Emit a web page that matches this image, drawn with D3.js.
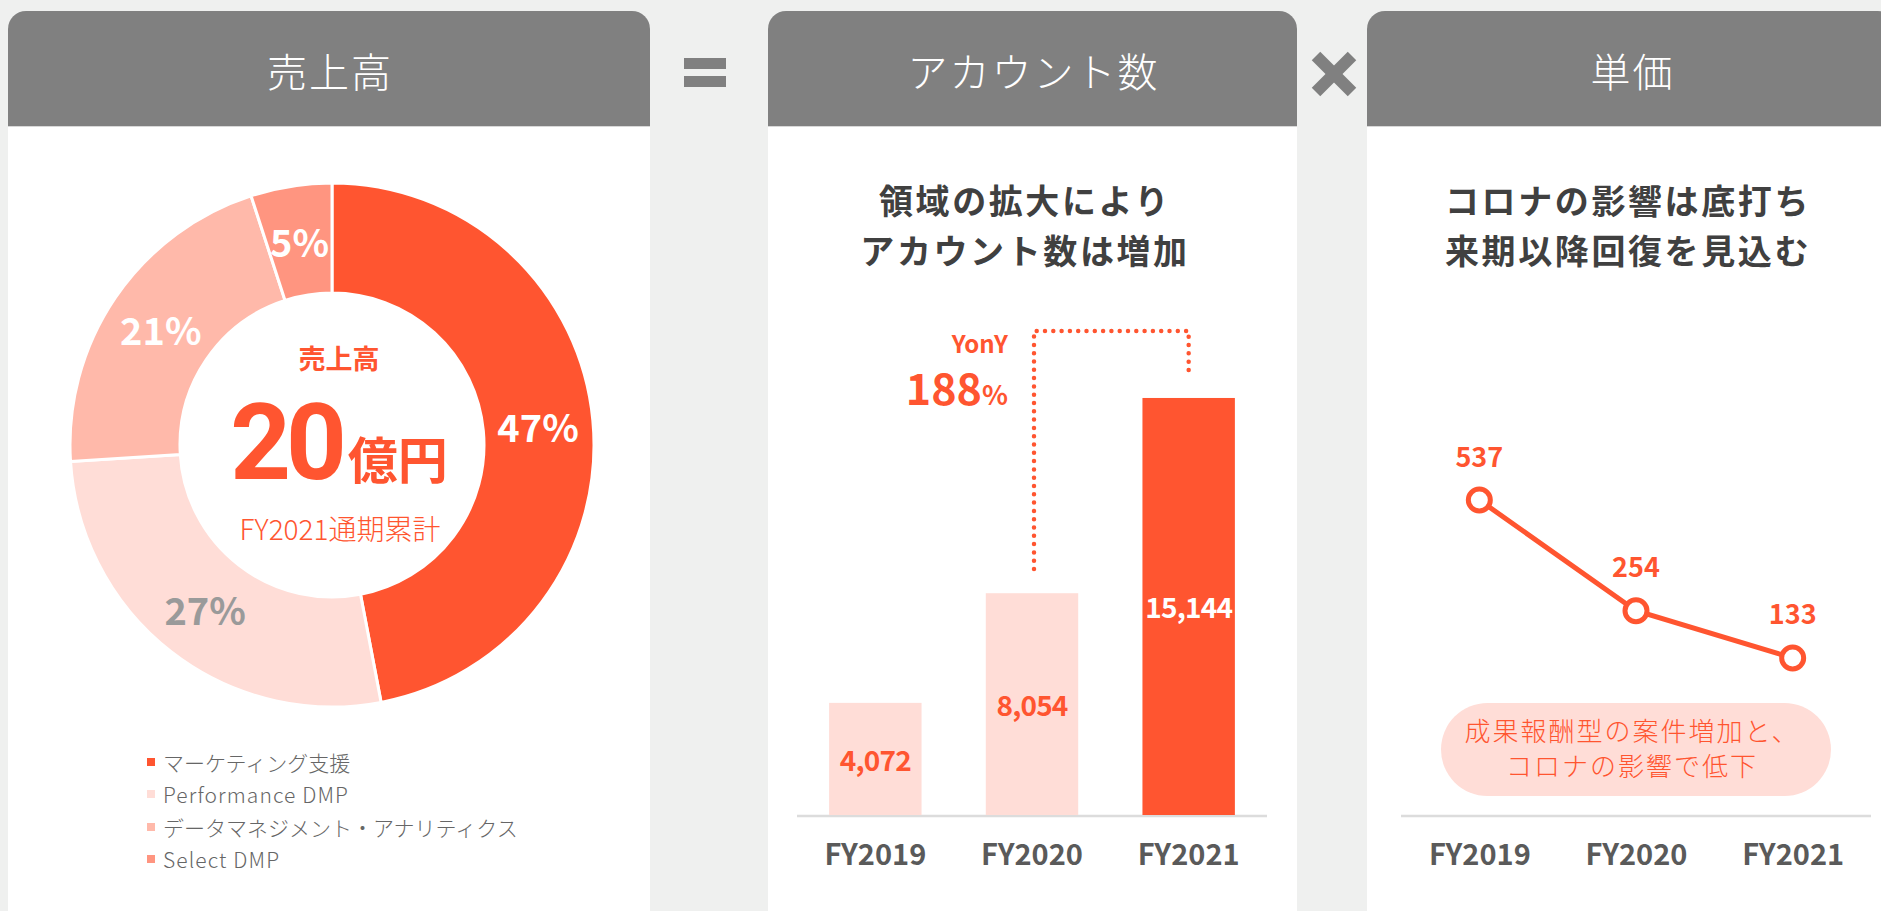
<!DOCTYPE html>
<html><head><meta charset="utf-8">
<script src="https://cdn.jsdelivr.net/npm/d3@7"></script>
<style>
html,body{margin:0;padding:0;background:#eff0ef;overflow:hidden;}
svg{display:block;font-family:"Noto Sans CJK JP","Noto Sans",sans-serif;}
</style></head><body>
<svg id="c" width="1881" height="911"></svg>
<script>
// ---------- data ----------
const panelTitles = ["売上高", "アカウント数", "単価"];
const segmentNames = ["マーケティング支援", "Performance DMP", "データマネジメント・アナリティクス", "Select DMP"];
const segmentShares = [47, 27, 21, 5];
const centerTitle = "売上高";
const centerValue = "20";
const centerUnit = "億円";
const centerNote = "FY2021通期累計";
const years = ["FY2019", "FY2020", "FY2021"];
const accounts = [4072, 8054, 15144];
const yonyLabel = "YonY";
const yonyValue = "188";
const unitPrices = [537, 254, 133];
const accountHeadline = ["領域の拡大により", "アカウント数は増加"];
const priceHeadline = ["コロナの影響は底打ち", "来期以降回復を見込む"];
const priceNote = ["成果報酬型の案件増加と、", "コロナの影響で低下"];

// ---------- styles ----------
const RED = "#ff5530", PINK = "#ffddd7", GRAY = "#808080";
const segmentColors = [RED, "#ffddd7", "#ffb9aa", "#ff9580"];
const segmentLabelColors = ["#fff", "#9a9a9a", "#fff", "#fff"];

const svg = d3.select("#c");
const HT = 11, HB = 126, R = 18;
const panels = [{x: 8, w: 642}, {x: 768, w: 529}, {x: 1367, w: 529}];

panels.forEach((p, i) => {
  svg.append("rect").attr("x", p.x).attr("y", HB).attr("width", p.w).attr("height", 911 - HB).attr("fill", "#fff");
  const path = `M${p.x},${HB}V${HT + R}A${R},${R} 0 0 1 ${p.x + R},${HT}H${p.x + p.w - R}A${R},${R} 0 0 1 ${p.x + p.w},${HT + R}V${HB}Z`;
  svg.append("path").attr("d", path).attr("fill", GRAY);
  svg.append("line").attr("x1", p.x).attr("x2", p.x + p.w).attr("y1", HB + 0.5).attr("y2", HB + 0.5).attr("stroke", "#d8d8d8").attr("stroke-width", 1);
  svg.append("text").attr("x", p.x + p.w / 2 + 1).attr("y", 70)
    .attr("text-anchor", "middle").attr("dominant-baseline", "central")
    .attr("font-size", 40).attr("font-weight", 300).attr("letter-spacing", 2)
    .attr("fill", "#fff").text(panelTitles[i]);
});

// operators
svg.append("rect").attr("x", 684).attr("y", 58).attr("width", 42).attr("height", 11).attr("fill", GRAY);
svg.append("rect").attr("x", 684).attr("y", 76).attr("width", 42).attr("height", 11).attr("fill", GRAY);
[[-1, -1, 1, 1], [-1, 1, 1, -1]].forEach(d => {
  svg.append("line").attr("x1", 1334 + d[0] * 18).attr("y1", 74 + d[1] * 18)
    .attr("x2", 1334 + d[2] * 18).attr("y2", 74 + d[3] * 18)
    .attr("stroke", GRAY).attr("stroke-width", 12);
});

// ---------- donut ----------
const cx = 332, cy = 445, rOut = 262, rIn = 152;
const pie = d3.pie().sort(null).value(d => d);
const arcs = pie(segmentShares);
const arc = d3.arc().innerRadius(rIn).outerRadius(rOut);
const labelArc = d3.arc().innerRadius((rIn + rOut) / 2).outerRadius((rIn + rOut) / 2);
const g1 = svg.append("g").attr("transform", `translate(${cx},${cy})`);
g1.selectAll("path").data(arcs).join("path")
  .attr("d", arc).attr("fill", (d, i) => segmentColors[i])
  .attr("stroke", "#fff").attr("stroke-width", 3);
g1.selectAll("text").data(arcs).join("text")
  .attr("transform", d => `translate(${labelArc.centroid(d)})`)
  .attr("text-anchor", "middle").attr("dominant-baseline", "central")
  .attr("font-size", 38).attr("font-weight", 700)
  .attr("fill", (d, i) => segmentLabelColors[i])
  .text(d => d.data + "%");

svg.append("text").attr("x", 339).attr("y", 357).attr("text-anchor", "middle").attr("dominant-baseline", "central")
  .attr("font-size", 27).attr("font-weight", 700).attr("fill", RED).text(centerTitle);
const big = svg.append("text").attr("x", 339).attr("y", 479).attr("text-anchor", "middle")
  .attr("font-weight", 700).attr("fill", RED);
big.append("tspan").attr("font-size", 106).attr("font-family", "Roboto, 'Noto Sans', sans-serif").attr("letter-spacing", -5).text(centerValue);
big.append("tspan").attr("font-size", 50).attr("dx", 6).text(centerUnit);
svg.append("text").attr("x", 340).attr("y", 528).attr("text-anchor", "middle").attr("dominant-baseline", "central")
  .attr("font-size", 28).attr("font-weight", 300).attr("fill", RED).text(centerNote);

// legend
const legRows = [762, 794, 827, 859];
segmentNames.forEach((n, i) => {
  const latin = /^[\x00-\x7F]+$/.test(n);
  svg.append("rect").attr("x", 147).attr("y", legRows[i] - 4).attr("width", 8).attr("height", 8).attr("fill", segmentColors[i]);
  svg.append("text").attr("x", 163).attr("y", legRows[i]).attr("dominant-baseline", "central")
    .attr("font-size", 21).attr("font-weight", 300).attr("letter-spacing", latin ? 1.1 : 0)
    .attr("fill", "#666").text(n);
});

// ---------- headlines ----------
function headline(lines, x) {
  lines.forEach((s, i) => {
    svg.append("text").attr("x", x).attr("y", [199.5, 249.5][i]).attr("text-anchor", "middle").attr("dominant-baseline", "central")
      .attr("font-size", 34).attr("font-weight", 700).attr("letter-spacing", 2.6).attr("fill", "#404040").text(s);
  });
}
headline(accountHeadline, 1025);
headline(priceHeadline, 1628);

// ---------- bar chart ----------
const base = 815;
const xb = d3.scaleBand().domain(years).range([797, 1267]).paddingInner(0.41).paddingOuter(0.205);
const yb = d3.scaleLinear().domain([0, 16000]).range([base, base - 440.6]);
svg.append("line").attr("x1", 797).attr("x2", 1267).attr("y1", base + 1).attr("y2", base + 1).attr("stroke", "#dcdcdc").attr("stroke-width", 2.5);
svg.selectAll(".bar").data(accounts).join("rect").attr("class", "bar")
  .attr("x", (d, i) => xb(years[i])).attr("width", xb.bandwidth())
  .attr("y", d => yb(d)).attr("height", d => base - yb(d))
  .attr("fill", (d, i) => i === accounts.length - 1 ? RED : PINK);
svg.selectAll(".bl").data(accounts).join("text").attr("class", "bl")
  .attr("x", (d, i) => xb(years[i]) + xb.bandwidth() / 2)
  .attr("y", d => (yb(d) + base) / 2)
  .attr("text-anchor", "middle").attr("dominant-baseline", "central")
  .attr("font-size", 28).attr("font-weight", 700).attr("letter-spacing", -0.8)
  .attr("fill", (d, i) => i === accounts.length - 1 ? "#fff" : RED)
  .text(d => d3.format(",")(d));
const xAxisB = d3.axisBottom(xb).tickSize(0).tickPadding(0);
const axB = svg.append("g").attr("transform", `translate(0,${base})`).call(xAxisB);
axB.select(".domain").remove();
axB.selectAll("text").attr("y", 37).attr("dy", null).attr("dominant-baseline", "central")
  .attr("font-size", 29).attr("font-weight", 700).attr("fill", "#5a5a5a")
  .attr("font-family", "'Noto Sans CJK JP','Noto Sans',sans-serif");

// YonY dotted connector
const xL = xb(years[1]) + xb.bandwidth() / 2 + 2, xR = xb(years[2]) + xb.bandwidth() / 2;
svg.append("path").attr("d", `M${xL},569V331H${xR}V378`)
  .attr("fill", "none").attr("stroke", RED).attr("stroke-width", 4.5)
  .attr("stroke-linecap", "round").attr("stroke-dasharray", "0 8.3");
svg.append("text").attr("x", 1008).attr("y", 342).attr("text-anchor", "end").attr("dominant-baseline", "central")
  .attr("font-size", 24).attr("font-weight", 700).attr("fill", RED).text(yonyLabel);
const yy = svg.append("text").attr("x", 1008).attr("y", 405).attr("text-anchor", "end").attr("font-weight", 700).attr("fill", RED);
yy.append("tspan").attr("font-size", 43).text(yonyValue);
yy.append("tspan").attr("font-size", 27).text("%");

// ---------- line chart ----------
const xp = d3.scalePoint().domain(years).range([1401, 1871]).padding(0.5);
const yp = d3.scaleLinear().domain([0, 600]).range([710, 710 - 0.391 * 600]);
svg.append("line").attr("x1", 1401).attr("x2", 1871).attr("y1", base + 1).attr("y2", base + 1).attr("stroke", "#dcdcdc").attr("stroke-width", 2.5);
svg.append("rect").attr("x", 1441).attr("y", 703).attr("width", 390).attr("height", 93).attr("rx", 46.5).attr("fill", PINK);
const note = svg.append("text").attr("text-anchor", "middle")
  .attr("font-size", 26).attr("font-weight", 300).attr("letter-spacing", 2).attr("fill", RED);
priceNote.forEach((t, i) => {
  note.append("tspan").attr("x", 1632).attr("y", [741, 776][i]).text(t);
});
const line = d3.line().x((d, i) => xp(years[i])).y(d => yp(d));
svg.append("path").datum(unitPrices).attr("d", line).attr("fill", "none").attr("stroke", RED).attr("stroke-width", 5);
svg.selectAll(".pt").data(unitPrices).join("circle").attr("class", "pt")
  .attr("cx", (d, i) => xp(years[i])).attr("cy", d => yp(d)).attr("r", 11)
  .attr("fill", "#fff").attr("stroke", RED).attr("stroke-width", 5);
svg.selectAll(".pl").data(unitPrices).join("text").attr("class", "pl")
  .attr("x", (d, i) => xp(years[i])).attr("y", d => yp(d) - 45)
  .attr("text-anchor", "middle").attr("dominant-baseline", "central")
  .attr("font-size", 27).attr("font-weight", 700).attr("fill", RED).text(d => d);
const axP = svg.append("g").attr("transform", `translate(0,${base})`).call(d3.axisBottom(xp).tickSize(0).tickPadding(0));
axP.select(".domain").remove();
axP.selectAll("text").attr("y", 37).attr("dy", null).attr("dominant-baseline", "central")
  .attr("font-size", 29).attr("font-weight", 700).attr("fill", "#5a5a5a")
  .attr("font-family", "'Noto Sans CJK JP','Noto Sans',sans-serif");
</script>
</body></html>
